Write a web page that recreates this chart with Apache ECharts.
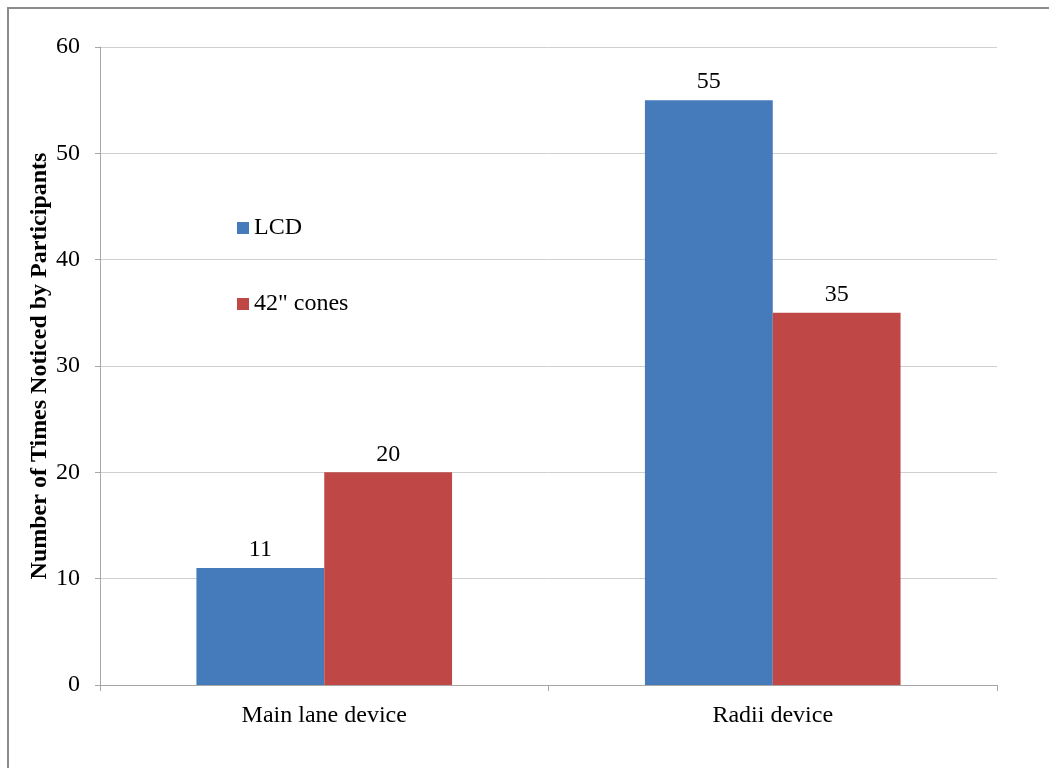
<!DOCTYPE html>
<html>
<head>
<meta charset="utf-8">
<script src="https://cdn.jsdelivr.net/npm/echarts@6/dist/echarts.min.js"></script>
<style>
  html, body { margin: 0; padding: 0; background: #fff; overflow: hidden; }
  #frame { position: absolute; left: 7px; top: 7px; width: 1200px; height: 900px;
           border-left: 2px solid #8c8c8c; border-top: 2px solid #8c8c8c; }
  #chart { position: absolute; left: 0; top: 0; width: 1049px; height: 768px; }
</style>
</head>
<body>
<div id="frame"></div>
<div id="chart"></div>
<script>
// Categories and counts per device type
const categories = ['Main lane device', 'Radii device'];
const lcdCounts = [11, 55];
const coneCounts = [20, 35];
const seriesNames = ['LCD', '42" cones'];

const font = 'Liberation Serif, Times New Roman, serif';
const fs = 24;
const chart = echarts.init(document.getElementById('chart'));

chart.setOption({
  animation: false,
  textStyle: { fontFamily: font },
  grid: { left: 100, right: 52, top: 47, bottom: 83, containLabel: false },
  legend: {
    orient: 'vertical',
    left: 232,
    top: 211,
    itemWidth: 12,
    itemHeight: 12,
    itemGap: 52,
    icon: 'rect',
    textStyle: { fontFamily: font, fontSize: fs, color: '#000' },
    data: seriesNames
  },
  xAxis: {
    type: 'category',
    data: categories,
    axisLine: { lineStyle: { color: '#a6a6a6', width: 1 } },
    axisTick: { show: true, length: 6, lineStyle: { color: '#a6a6a6' } },
    axisLabel: { fontFamily: font, fontSize: fs, color: '#000', margin: 19 }
  },
  yAxis: {
    type: 'value',
    min: 0,
    max: 60,
    interval: 10,
    name: 'Number of Times Noticed by Participants',
    nameLocation: 'middle',
    nameGap: 48,
    nameMoveOverlap: false,
    nameTextStyle: { fontFamily: font, fontSize: fs, fontWeight: 'bold', color: '#000' },
    axisLine: { show: true, lineStyle: { color: '#a6a6a6', width: 1 } },
    axisTick: { show: true, length: 5, lineStyle: { color: '#a6a6a6' } },
    axisLabel: { fontFamily: font, fontSize: fs, color: '#000', margin: 20 },
    splitLine: { lineStyle: { color: '#d0d0d0', width: 1 } }
  },
  series: [
    {
      name: seriesNames[0],
      type: 'bar',
      data: lcdCounts,
      barWidth: '28.5%',
      barGap: '0%',
      itemStyle: { color: '#457abb' },
      label: { show: true, position: 'top', distance: 6, fontFamily: font, fontSize: fs, color: '#000' }
    },
    {
      name: seriesNames[1],
      type: 'bar',
      data: coneCounts,
      barWidth: '28.5%',
      barGap: '0%',
      itemStyle: { color: '#bf4846' },
      label: { show: true, position: 'top', distance: 6, fontFamily: font, fontSize: fs, color: '#000' }
    }
  ]
});
</script>
</body>
</html>
